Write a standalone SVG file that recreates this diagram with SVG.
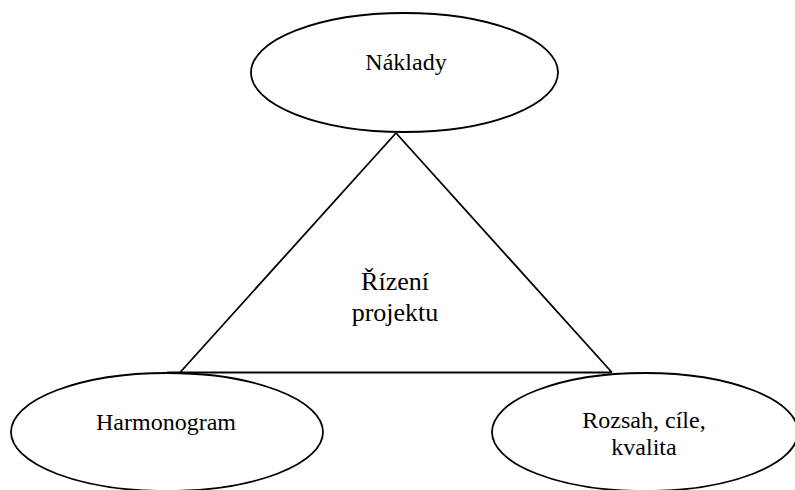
<svg xmlns="http://www.w3.org/2000/svg" width="795" height="490" viewBox="0 0 795 490">
<style>
.sh{fill:#fff;stroke:#000;stroke-width:1.8}
.ln{fill:none;stroke:#000;stroke-width:1.8}
text{font-family:"Liberation Serif","Times New Roman",serif;fill:#000;text-anchor:middle}
.t{font-size:24px}
.c{font-size:26px}
</style>
<rect width="795" height="490" fill="#fff"/>
<g id="connectors">
<path class="ln" d="M396,133 L180,372.5 M396,133 L612,372.5 M167,372.5 L612,372.5"/>
</g>
<g id="center">
<text class="c" x="395" y="290">Řízení</text>
<text class="c" x="395" y="321">projektu</text>
</g>
<g id="naklady">
<ellipse class="sh" cx="404.5" cy="72.5" rx="153.5" ry="59.5"/>
<text class="t" x="406" y="70">Náklady</text>
</g>
<g id="harmonogram">
<ellipse class="sh" cx="167" cy="432" rx="156" ry="59"/>
<text class="t" x="166" y="430">Harmonogram</text>
</g>
<g id="rozsah">
<ellipse class="sh" cx="645" cy="432" rx="153" ry="59"/>
<text class="t" x="644" y="428">Rozsah, cíle,</text>
<text class="t" x="644" y="455">kvalita</text>
</g>
</svg>
